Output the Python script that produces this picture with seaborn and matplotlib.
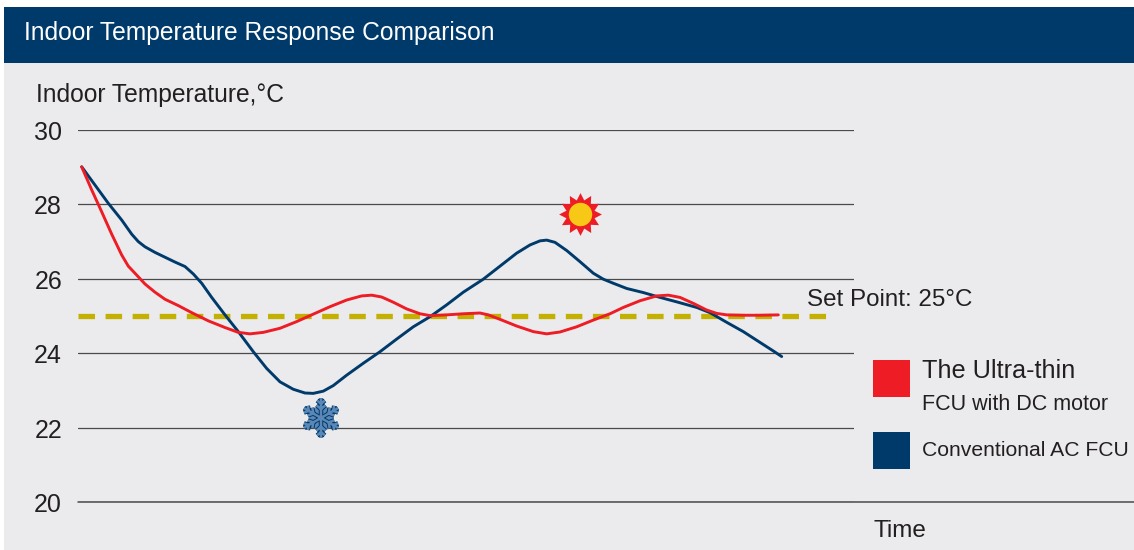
import numpy as np
import pandas as pd
import matplotlib
matplotlib.use("Agg")
import matplotlib.pyplot as plt
import seaborn as sns
from matplotlib.lines import Line2D
from matplotlib.patches import Rectangle
from matplotlib.path import Path
from matplotlib.transforms import ScaledTranslation
import matplotlib.patheffects as pe

# --- data (time has no unit on the original chart) ---
time_red = [3.7, 13.7, 23.7, 33.7, 43.7, 50.3, 58.7, 67, 77, 87, 100.3, 113.7, 130.3,
            147, 160.3, 172, 185.3, 202, 218.7, 235.3, 252, 268.7, 283.7, 293.7, 303.7,
            315.3, 328.7, 342, 352, 368.7, 385.3, 402, 410.3, 422, 438.7, 455.3, 468.7,
            482, 498.7, 515.3, 532, 545.3, 562, 578.7, 590.3, 602, 615.3, 628.7, 638.7,
            648.7, 665.3, 682, 700.3]
temp_red = [29.01, 28.39, 27.80, 27.20, 26.64, 26.34, 26.10, 25.86, 25.64, 25.45, 25.28,
            25.09, 24.87, 24.69, 24.56, 24.52, 24.56, 24.67, 24.85, 25.05, 25.25, 25.43,
            25.54, 25.56, 25.51, 25.37, 25.19, 25.06, 25.01, 25.03, 25.06, 25.08, 25.03,
            24.91, 24.73, 24.58, 24.52, 24.57, 24.71, 24.89, 25.06, 25.23, 25.41, 25.54,
            25.56, 25.50, 25.34, 25.16, 25.07, 25.03, 25.02, 25.02, 25.03]
time_blue = [3.7, 17, 30.3, 43.7, 53.7, 60.3, 67, 77, 87, 97, 107, 115.3, 123.7, 133.7,
             147, 160.3, 175.3, 188.7, 202, 215.3, 227, 235.3, 245.3, 255.3, 268.7, 285.3,
             302, 318.7, 335.3, 352, 368.7, 385.3, 405.3, 422, 438.7, 452, 462, 468.7,
             477, 488.7, 502, 515.3, 525.3, 535.3, 548.7, 565.3, 582, 598.7, 618.7, 632,
             648.7, 665.3, 682, 695.3, 703.7]
temp_blue = [29.01, 28.52, 28.03, 27.58, 27.20, 27.00, 26.86, 26.71, 26.58, 26.45, 26.33,
             26.13, 25.88, 25.50, 25.03, 24.58, 24.04, 23.59, 23.23, 23.03, 22.93, 22.92,
             22.98, 23.13, 23.41, 23.73, 24.04, 24.38, 24.71, 24.98, 25.30, 25.64, 25.99,
             26.34, 26.69, 26.91, 27.02, 27.04, 26.98, 26.76, 26.46, 26.15, 25.99, 25.88,
             25.74, 25.63, 25.50, 25.38, 25.23, 25.09, 24.83, 24.58, 24.29, 24.06, 23.91]
time_setpoint = [0, 749]
temp_setpoint = [25, 25]
time_sun = [502]
temp_sun = [27.74]
time_snow = [243]
temp_snow = [22.26]
y_ticks = [20, 22, 24, 26, 28, 30]

NAVY = "#003A6B"
RED = "#EE1C25"
OLIVE = "#C4B000"
BG = "#EBEBED"
TXT = "#231F20"
W, H = 1134, 550

sns.set_style("white")
plt.rcParams["font.family"] = ["Liberation Sans", "DejaVu Sans"]


def fx(px):
    return px / W


def fy(py):
    return 1 - py / H


def snow_marker():
    # six arms with two pairs of little branches each
    verts, codes = [], []
    for a in np.deg2rad(np.arange(0, 360, 60) + 90):
        d = np.array([np.cos(a), np.sin(a)])
        for r, b in [(0.45, 0.3), (0.72, 0.26)]:
            for s in (-1, 1):
                t = a + s * np.deg2rad(50)
                p = d * r
                verts += [p + np.array([np.cos(t), np.sin(t)]) * b, p]
                codes += [Path.MOVETO, Path.LINETO]
        verts += [(0, 0), d]
        codes += [Path.MOVETO, Path.LINETO]
    return Path(verts, codes)


fig = plt.figure(figsize=(W / 100, H / 100), dpi=100, facecolor="white")
fig.add_artist(Rectangle((fx(4), 0), fx(W - 4), fy(7), transform=fig.transFigure,
                         facecolor=BG, edgecolor="none", zorder=-5))
fig.add_artist(Rectangle((fx(4), fy(63)), fx(W - 4), fy(7) - fy(63), transform=fig.transFigure,
                         facecolor=NAVY, edgecolor="none", zorder=-4))

ax = fig.add_axes([fx(78), fy(502), fx(854 - 78), fy(130) - fy(502)])
ax.patch.set_alpha(0)

# setpoint, then the two curves (red ends up on top)
sns.lineplot(x=time_setpoint, y=temp_setpoint, color=OLIVE, lw=3.8, ax=ax, zorder=2,
             linestyle=(0, (3.13, 2.0)), errorbar=None)

df = pd.DataFrame({
    "time": time_blue + time_red,
    "temp": temp_blue + temp_red,
    "unit": ["blue"] * len(time_blue) + ["red"] * len(time_red),
})
sns.lineplot(data=df, x="time", y="temp", hue="unit", hue_order=["blue", "red"],
             palette={"red": RED, "blue": NAVY}, sort=False, estimator=None, lw=2.1,
             ax=ax, legend=False, zorder=3)
for line in ax.lines[1:]:
    line.set_solid_joinstyle("round")
    line.set_snap(False)

ax.set_xlim(0, 776)
ax.set_ylim(20, 30)
sns.despine(ax=ax, left=True, bottom=True, top=True, right=True)
ax.set_xticks([])
ax.set_yticks(y_ticks)
ax.tick_params(axis="y", length=0, pad=11.5, labelsize=18, labelcolor=TXT)
ax.grid(axis="y", color="#4A4A4A", lw=0.9)
ax.set_axisbelow(True)
ax.set_xlabel("")
ax.set_ylabel("")
# the numbers sit slightly under their gridlines
for lab in ax.get_yticklabels():
    lab.set_transform(lab.get_transform() + ScaledTranslation(0, -0.5 / 100, fig.dpi_scale_trans))

# sun + snowflake icons
sun = Path.unit_regular_star(12, innerCircle=0.68)
sns.scatterplot(x=time_sun, y=temp_sun, marker=sun, s=950, color=RED, linewidth=0, ax=ax,
                zorder=5)
sns.scatterplot(x=time_sun, y=temp_sun, marker="o", s=285, color="#F7C815", linewidth=0,
                ax=ax, zorder=6)

sns.scatterplot(x=time_snow, y=temp_snow, marker="h", s=420, color="#5A87B5", linewidth=0,
                ax=ax, zorder=5)
flake = ax.scatter(time_snow, temp_snow, marker=snow_marker(), s=800, facecolors="none",
                   edgecolors="#5A87B5", linewidths=1.8, zorder=6)
flake.set_path_effects([pe.Stroke(linewidth=3.2, foreground=NAVY), pe.Normal()])
ax.set_xlabel("")
ax.set_ylabel("")

# texts
fig.text(fx(24), fy(33), "Indoor Temperature Response Comparison", color="white",
         fontsize=17.75, va="center", ha="left")
fig.text(fx(36), fy(95), "Indoor Temperature,°C", color=TXT, fontsize=17.7, va="center")
fig.text(fx(807), fy(300), "Set Point: 25°C", color=TXT, fontsize=17.4, va="center")
fig.text(fx(874), fy(531), "Time", color=TXT, fontsize=17.5, va="center")

# legend drawn by hand, the original has a two-line label
for top, col in [(360, RED), (432, NAVY)]:
    fig.add_artist(Rectangle((fx(873), fy(top + 37)), fx(37), fy(top) - fy(top + 37),
                             transform=fig.transFigure, facecolor=col, edgecolor="none"))
fig.text(fx(922), fy(371), "The Ultra-thin", color=TXT, fontsize=18.2, va="center")
fig.text(fx(922), fy(404), "FCU with DC motor", color=TXT, fontsize=15.5, va="center")
fig.text(fx(922), fy(451), "Conventional AC FCU", color=TXT, fontsize=15.2, va="center")

# bottom rule runs on to the right edge
fig.add_artist(Line2D([fx(78), 1], [fy(502), fy(502)], color="#4A4A4A", lw=1.1,
                      transform=fig.transFigure))

fig.savefig("out.png", dpi=100, facecolor="white")
